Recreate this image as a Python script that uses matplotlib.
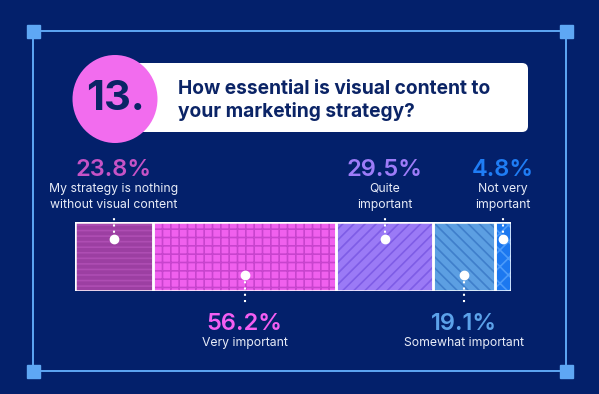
import matplotlib
matplotlib.use("Agg")
import matplotlib.pyplot as plt
from matplotlib.patches import FancyBboxPatch, Ellipse, Rectangle
from matplotlib.transforms import blended_transform_factory

# data
labels = ["My strategy is nothing\nwithout visual content", "Very important",
          "Quite\nimportant", "Somewhat important", "Not very\nimportant"]
values = [23.8, 56.2, 29.5, 19.1, 4.8]
pct_text = ["23.8%", "56.2%", "29.5%", "19.1%", "4.8%"]
label_side = ["top", "bottom", "top", "bottom", "top"]

face_colors = ["#9C3FA2", "#F060EE", "#9B7AF6", "#5C9FE2", "#1C78F0"]
hatch_colors = ["#AE4DB3", "#C844CE", "#7E5CE6", "#3F7FCB", "#4C9BFA"]
hatches = ["---", "++", "///", "\\\\\\", "xx"]
text_colors = ["#C653C6", "#F45EF2", "#9E7CF8", "#5CA2EA", "#1F7DF5"]

BG = "#03206B"
LINE = "#5EA7F4"
NAVY = "#0B2466"

plt.rcParams["font.family"] = ["Inter", "DejaVu Sans"]
plt.rcParams["hatch.linewidth"] = 1.2

fig = plt.figure(figsize=(5.99, 3.94), dpi=100)
fig.patch.set_facecolor(BG)

# background layer in pixel coordinates
bg = fig.add_axes([0, 0, 1, 1])
bg.set_xlim(0, 599)
bg.set_ylim(394, 0)
bg.axis("off")

# frame
bg.plot([33, 566, 566, 33, 33], [31, 31, 371, 371, 31], color=LINE, lw=1.4)
for cx, cy in [(33, 31), (566, 31), (33, 371), (566, 371)]:
    bg.add_patch(Rectangle((cx - 6.5, cy - 6.5), 13, 13, color=LINE, zorder=3))

# title box and badge
bg.add_patch(FancyBboxPatch((125, 63), 403, 69, boxstyle="round,pad=0,rounding_size=6",
                            fc="white", ec="none", zorder=2))
bg.add_patch(Ellipse((115, 99), 85, 88, fc="#F26CEE", ec="none", zorder=3))
bg.text(115, 99, "13.", ha="center", va="center", fontsize=30, fontweight="bold",
        color=NAVY, zorder=4)
bg.text(178, 94, "How essential is visual content to", fontsize=13.8, fontweight="bold",
        color=NAVY, va="baseline", zorder=4)
bg.text(178, 117, "your marketing strategy?", fontsize=13.8, fontweight="bold",
        color=NAVY, va="baseline", zorder=4)

# bar axes: x 75..511, y 222..291 px
bx0, bx1, by0, by1 = 75, 511, 222, 291
bh = by1 - by0
ax = fig.add_axes([bx0 / 599, 1 - by1 / 394, (bx1 - bx0) / 599, bh / 394])
ax.set_facecolor("none")
total = sum(values)
lefts = [sum(values[:i]) for i in range(len(values))]
ax.barh([0] * len(values), values, left=lefts, height=1, color=face_colors,
        edgecolor=hatch_colors, hatch=hatches, linewidth=0)
ax.barh([0] * len(values), values, left=lefts, height=1, fill=False,
        edgecolor="white", linewidth=1.8)
ax.set_xlim(0, total)
ax.set_ylim(-0.5, 0.5)
ax.axis("off")

tr = blended_transform_factory(ax.transData, ax.transAxes)


def fy(py):
    # pixel row -> axes fraction
    return (by1 - py) / bh


for i, v in enumerate(values):
    cx = lefts[i] + v / 2
    if label_side[i] == "top":
        dot_y, end_y = 239, 214
        pct_y, lab_y = 176, 183
    else:
        dot_y, end_y = 275, 306
        pct_y, lab_y = 330, 337
    ax.plot([cx, cx], [fy(dot_y), fy(end_y)], transform=tr, color="white", lw=1.5,
            linestyle=(0, (1, 2)), clip_on=False)
    ax.plot([cx], [fy(dot_y)], transform=tr, marker="o", ms=6, color="white",
            clip_on=False)
    ax.text(cx, fy(pct_y), pct_text[i], transform=tr, ha="center", va="baseline",
            fontsize=17, fontweight="semibold", color=text_colors[i])
    ax.text(cx, fy(lab_y), labels[i], transform=tr, ha="center", va="top",
            fontsize=8.8, color="#E8ECF8", linespacing=1.45)

fig.savefig("out.png", dpi=100, facecolor=BG)
